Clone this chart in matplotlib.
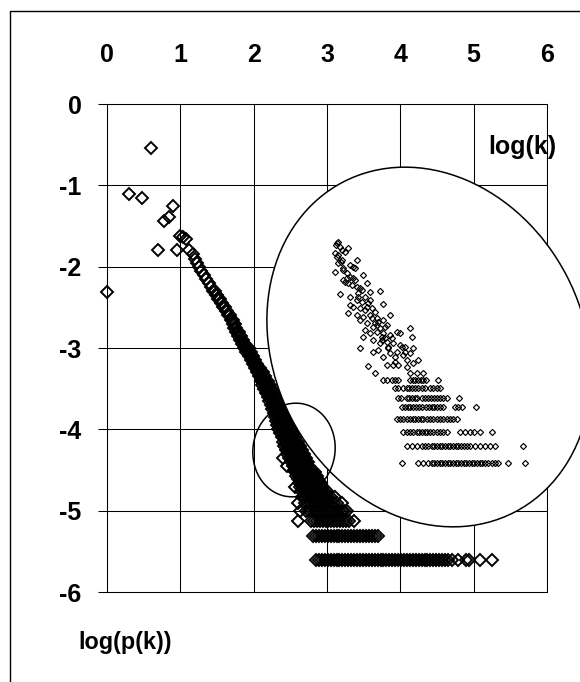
import matplotlib
matplotlib.use('Agg')
import matplotlib.pyplot as plt
from matplotlib.patches import Ellipse

plt.rcParams['font.family'] = ['Liberation Sans', 'DejaVu Sans']
plt.rcParams['font.weight'] = 'bold'
plt.rcParams['axes.unicode_minus'] = False

# ---------------- data ----------------
x_ticks = [0, 1, 2, 3, 4, 5, 6]
y_ticks = [0, -1, -2, -3, -4, -5, -6]
x_title = 'log(k)'
y_title = 'log(p(k))'

# low-degree points (log k, log p(k))
head_x = [0.000, 0.301, 0.477, 0.602, 0.699, 0.778, 0.845, 0.903, 0.954, 1.000, 1.041, 1.079, 1.114]
head_y = [-2.31, -1.11, -1.16, -0.54, -1.79, -1.44, -1.39, -1.25, -1.79, -1.62, -1.64, -1.66, -1.80]

# dense power-law band: one row of log k values per log p(k) level
band_y = [-1.85, -1.90, -1.95, -2.00, -2.05, -2.10, -2.15, -2.20, -2.25, -2.30, -2.35,
          -2.40, -2.45, -2.50, -2.55, -2.60, -2.65, -2.70, -2.75, -2.80, -2.85, -2.90,
          -2.95, -3.00, -3.05, -3.10, -3.15, -3.20, -3.25, -3.30, -3.35, -3.40, -3.45,
          -3.50, -3.55, -3.60, -3.65, -3.70, -3.75, -3.80, -3.85, -3.90, -3.95, -4.00,
          -4.05, -4.10, -4.15, -4.20, -4.25, -4.30, -4.35, -4.40, -4.45, -4.50,
          -4.53, -4.57, -4.61, -4.66, -4.71, -4.76, -4.83, -4.91, -5.01, -5.13, -5.31, -5.61]
band_x = [
    [1.17], [1.20], [1.225], [1.25], [1.285], [1.32], [1.355], [1.39], [1.42],
    [1.45, 1.47], [1.48, 1.50], [1.515, 1.535], [1.55, 1.57], [1.585, 1.605],
    [1.62, 1.64], [1.655, 1.675], [1.685, 1.715], [1.715, 1.745], [1.725, 1.765],
    [1.755, 1.795], [1.785, 1.825], [1.815, 1.855], [1.845, 1.885],
    [1.87, 1.90, 1.93], [1.90, 1.93, 1.96], [1.93, 1.96, 1.99], [1.96, 1.99, 2.02],
    [1.99, 2.02, 2.05], [2.02, 2.05, 2.08], [2.045, 2.085, 2.125], [2.075, 2.115, 2.155],
    [2.10, 2.13, 2.16, 2.19], [2.12, 2.155, 2.185, 2.22], [2.145, 2.18, 2.21, 2.245],
    [2.165, 2.20, 2.24, 2.275], [2.19, 2.23, 2.27, 2.31], [2.215, 2.255, 2.295, 2.335],
    [2.235, 2.275, 2.315, 2.355], [2.255, 2.295, 2.335, 2.375, 2.395],
    [2.28, 2.315, 2.35, 2.385, 2.42], [2.295, 2.33, 2.37, 2.41, 2.445],
    [2.31, 2.35, 2.39, 2.43, 2.47], [2.32, 2.365, 2.41, 2.455, 2.50],
    [2.335, 2.38, 2.43, 2.475, 2.525], [2.355, 2.40, 2.44, 2.48, 2.52, 2.555],
    [2.38, 2.42, 2.46, 2.50, 2.54, 2.58], [2.395, 2.435, 2.475, 2.515, 2.555, 2.605],
    [2.415, 2.455, 2.495, 2.535, 2.575, 2.615, 2.635],
    [2.44, 2.48, 2.52, 2.56, 2.60, 2.64, 2.66],
    [2.46, 2.50, 2.54, 2.58, 2.62, 2.66, 2.69],
    [2.40, 2.485, 2.525, 2.565, 2.605, 2.645, 2.685, 2.715],
    [2.51, 2.55, 2.59, 2.63, 2.67, 2.71, 2.74],
    [2.45, 2.53, 2.57, 2.61, 2.65, 2.69, 2.73, 2.76],
    [2.55, 2.59, 2.63, 2.67, 2.71, 2.75, 2.79],
    [2.56, 2.60, 2.64, 2.68, 2.72, 2.76, 2.80, 2.84],
    [2.58, 2.62, 2.66, 2.70, 2.74, 2.78, 2.82, 2.86],
    [2.60, 2.64, 2.68, 2.72, 2.76, 2.80, 2.84, 2.88],
    [2.62, 2.66, 2.70, 2.74, 2.78, 2.82, 2.86, 2.90, 2.92],
    [2.57, 2.63, 2.67, 2.71, 2.75, 2.79, 2.83, 2.87, 2.91, 2.95],
    [2.64, 2.68, 2.72, 2.76, 2.80, 2.84, 2.88, 2.92, 2.96, 3.00],
    [2.66, 2.70, 2.74, 2.78, 2.82, 2.86, 2.90, 2.94, 2.98, 3.02, 3.06, 3.11],
    [2.61, 2.70, 2.74, 2.78, 2.82, 2.86, 2.90, 2.94, 2.98, 3.02, 3.06, 3.10, 3.14, 3.20],
    [2.63, 2.72, 2.76, 2.80, 2.84, 2.88, 2.92, 2.96, 3.00, 3.04, 3.08, 3.12, 3.16, 3.20,
     3.23, 3.27],
    [2.61, 2.78, 2.82, 2.86, 2.90, 2.94, 2.98, 3.02, 3.06, 3.10, 3.14, 3.18, 3.22, 3.26,
     3.30, 3.37],
    [2.81, 2.85, 2.89, 2.93, 2.97, 3.01, 3.05, 3.09, 3.13, 3.17, 3.21, 3.25, 3.29, 3.33,
     3.37, 3.41, 3.45, 3.49, 3.53, 3.57, 3.61, 3.65, 3.70],
    [2.85, 2.89, 2.93, 2.97, 3.01, 3.05, 3.09, 3.13, 3.17, 3.21, 3.25, 3.29, 3.33, 3.37,
     3.41, 3.45, 3.49, 3.53, 3.57, 3.61, 3.65, 3.69, 3.73, 3.77, 3.81, 3.85, 3.89, 3.93,
     3.97, 4.01, 4.05, 4.09, 4.13, 4.17, 4.21, 4.25, 4.29, 4.33, 4.37, 4.41, 4.45, 4.49,
     4.53, 4.57, 4.61, 4.65, 4.70, 4.79, 4.90, 4.94, 5.09, 5.25],
]

# magnified view (inside the large ellipse)
zoom_cloud_x = [2.32, 2.33, 2.316, 2.34, 2.39, 2.37, 2.31, 2.324, 2.35, 2.44, 2.40, 2.42, 2.33,
                2.31, 2.356, 2.38, 2.40, 2.42, 2.48, 2.37, 2.39, 2.41, 2.44, 2.50, 2.47, 2.52,
                2.58, 2.34, 2.40, 2.44, 2.49, 2.52, 2.40, 2.42, 2.46, 2.49, 2.53, 2.55, 2.596,
                2.39, 2.44, 2.48, 2.52, 2.56, 2.60, 2.64, 2.46, 2.50, 2.54, 2.58, 2.62, 2.49,
                2.52, 2.56, 2.60, 2.64, 2.68, 2.70, 2.76, 2.48, 2.54, 2.58, 2.62, 2.66, 2.70,
                2.73, 2.77, 2.46, 2.54, 2.57, 2.60, 2.64, 2.68, 2.72, 2.76, 2.78, 2.81, 2.51,
                2.55, 2.62, 2.66, 2.69, 2.76, 2.80, 2.84, 2.74, 2.73, 2.35, 2.43, 2.46, 2.51,
                2.57, 2.61, 2.36, 2.45, 2.55, 2.59, 2.63, 2.67,
                2.325, 2.345, 2.36, 2.38, 2.43, 2.45, 2.47, 2.50, 2.53, 2.56, 2.59, 2.61,
                2.63, 2.65, 2.67, 2.71, 2.74, 2.78]
zoom_cloud_y = [-3.68, -3.67, -3.69, -3.70, -3.71, -3.73, -3.74, -3.76, -3.78, -3.78, -3.81, -3.82,
                -3.80, -3.85, -3.84, -3.86, -3.88, -3.89, -3.87, -3.91, -3.92, -3.93, -3.94,
                -3.92, -3.96, -3.97, -3.964, -3.986, -4.00, -4.02, -4.00, -4.02, -4.05, -4.06,
                -4.07, -4.08, -4.07, -4.09, -4.044, -4.10, -4.11, -4.12, -4.11, -4.13, -4.14,
                -4.11, -4.14, -4.16, -4.18, -4.19, -4.17, -4.20, -4.22, -4.21, -4.22, -4.23,
                -4.21, -4.22, -4.19, -4.24, -4.26, -4.28, -4.27, -4.28, -4.29, -4.30, -4.24,
                -4.306, -4.33, -4.32, -4.36, -4.34, -4.33, -4.35, -4.34, -4.31, -4.38, -4.416,
                -4.456, -4.41, -4.41, -4.41, -4.456, -4.456, -4.456, -4.38, -4.33, -3.72,
                -3.83, -3.95, -4.04, -4.15, -4.25, -3.90, -4.00, -4.16, -4.26, -4.31, -4.39,
                -3.75, -3.79, -3.83, -3.89, -3.90, -3.98, -4.03, -4.06, -4.13, -4.17, -4.24,
                -4.18, -4.30, -4.25, -4.36, -4.30, -4.42, -4.40]
zoom_rows_y = [-4.50, -4.55, -4.606, -4.664, -4.736, -4.81, -4.896, -5.00]
zoom_rows_x = [
    [2.60, 2.62, 2.65, 2.67, 2.69, 2.76, 2.776, 2.792, 2.808, 2.824, 2.84, 2.856, 2.93],
    [2.67, 2.69, 2.72, 2.74, 2.756, 2.772, 2.788, 2.81, 2.83, 2.85, 2.88, 2.90, 2.92, 2.94],
    [2.686, 2.706, 2.74, 2.756, 2.772, 2.788, 2.804, 2.83, 2.85, 2.87, 2.886, 2.902, 2.92,
     2.94, 2.96, 2.98, 3.054],
    [2.71, 2.73, 2.746, 2.762, 2.778, 2.794, 2.814, 2.834, 2.854, 2.874, 2.89, 2.906, 2.922,
     2.94, 2.956, 3.03, 3.05, 3.07, 3.154],
    [2.68, 2.70, 2.72, 2.74, 2.76, 2.776, 2.792, 2.808, 2.824, 2.84, 2.86, 2.88, 2.90, 2.92,
     2.94, 2.96, 2.98, 3.00, 3.02, 3.04],
    [2.72, 2.74, 2.76, 2.78, 2.80, 2.816, 2.832, 2.848, 2.864, 2.88, 2.90, 2.92, 2.94, 2.96,
     2.98, 3.06, 3.09, 3.12, 3.144, 3.18, 3.25],
    [2.74, 2.77, 2.80, 2.83, 2.85, 2.87, 2.89, 2.906, 2.922, 2.938, 2.954, 2.97, 2.986, 3.002,
     3.018, 3.034, 3.05, 3.066, 3.082, 3.10, 3.12, 3.15, 3.18, 3.21, 3.24, 3.27, 3.44],
    [2.71, 2.81, 2.84, 2.87, 2.89, 2.906, 2.922, 2.938, 2.954, 2.97, 2.986, 3.002, 3.018,
     3.034, 3.05, 3.066, 3.082, 3.098, 3.114, 3.13, 3.146, 3.162, 3.178, 3.194, 3.21, 3.23,
     3.25, 3.27, 3.29, 3.35, 3.45],
]

# ---------------- figure ----------------
W, H = 580, 682
fig = plt.figure(figsize=(W / 100, H / 100), dpi=100)
fig.patch.set_facecolor('white')

ax = fig.add_axes([107 / W, 1 - 592 / H, 440 / W, 488 / H])
ax.set_xlim(0, 6)
ax.set_ylim(-6, 0)
ax.xaxis.tick_top()
ax.set_xticks(x_ticks)
ax.set_yticks(y_ticks)
ax.set_xticklabels([str(v) for v in x_ticks])
ax.set_yticklabels([str(v) for v in y_ticks])
ax.tick_params(axis='x', length=0, pad=27, labelsize=18)
ax.tick_params(axis='y', direction='out', length=6.8, width=0.75, pad=11.5, labelsize=18)
for lab in ax.get_xticklabels() + ax.get_yticklabels():
    lab.set_fontweight('bold')
ax.grid(True, color='black', linewidth=0.75)
ax.set_axisbelow(True)
for s in ax.spines.values():
    s.set_linewidth(0.75)
    s.set_color('black')

mk = dict(ls='none', marker='D', ms=5.8, mfc='none', mec='black', mew=1.4, clip_on=False)
ax.plot(head_x, head_y, **mk)
for yv, xs in zip(band_y, band_x):
    ax.plot(xs, [yv] * len(xs), **mk)

# overlay in pixel coordinates for frame, callout ellipses and titles
ov = fig.add_axes([0, 0, 1, 1], zorder=5)
ov.set_xlim(0, W)
ov.set_ylim(H, 0)
ov.axis('off')
ov.patch.set_alpha(0)
ov.plot([9.5, 9.5, W], [H, 10.7, 10.7], color='black', lw=1.0)
ov.add_patch(Ellipse((429, 347), 372, 310, angle=62.5, facecolor='white',
                     edgecolor='black', lw=1.1))
ov.add_patch(Ellipse((294, 450), 82, 94, angle=10, fill=False, edgecolor='black', lw=1.1))
ov.text(488, 154, x_title, fontsize=18, fontweight='bold', ha='left', va='baseline')
ov.text(78, 649, y_title, fontsize=16.8, fontweight='bold', ha='left', va='baseline')

# magnified inset (no frame)
ins = fig.add_axes([250 / W, 1 - 480 / H, 330 / W, 350 / H], zorder=6)
ins.set_xlim(1.8, 3.78)
ins.set_ylim(-5.1, -3.0)
ins.axis('off')
ins.patch.set_alpha(0)
mk2 = dict(ls='none', marker='D', ms=3.1, mfc='none', mec='black', mew=0.85)
ins.plot(zoom_cloud_x, zoom_cloud_y, **mk2)
for yv, xs in zip(zoom_rows_y, zoom_rows_x):
    ins.plot(xs, [yv] * len(xs), **mk2)

fig.savefig('out.png', dpi=100)
